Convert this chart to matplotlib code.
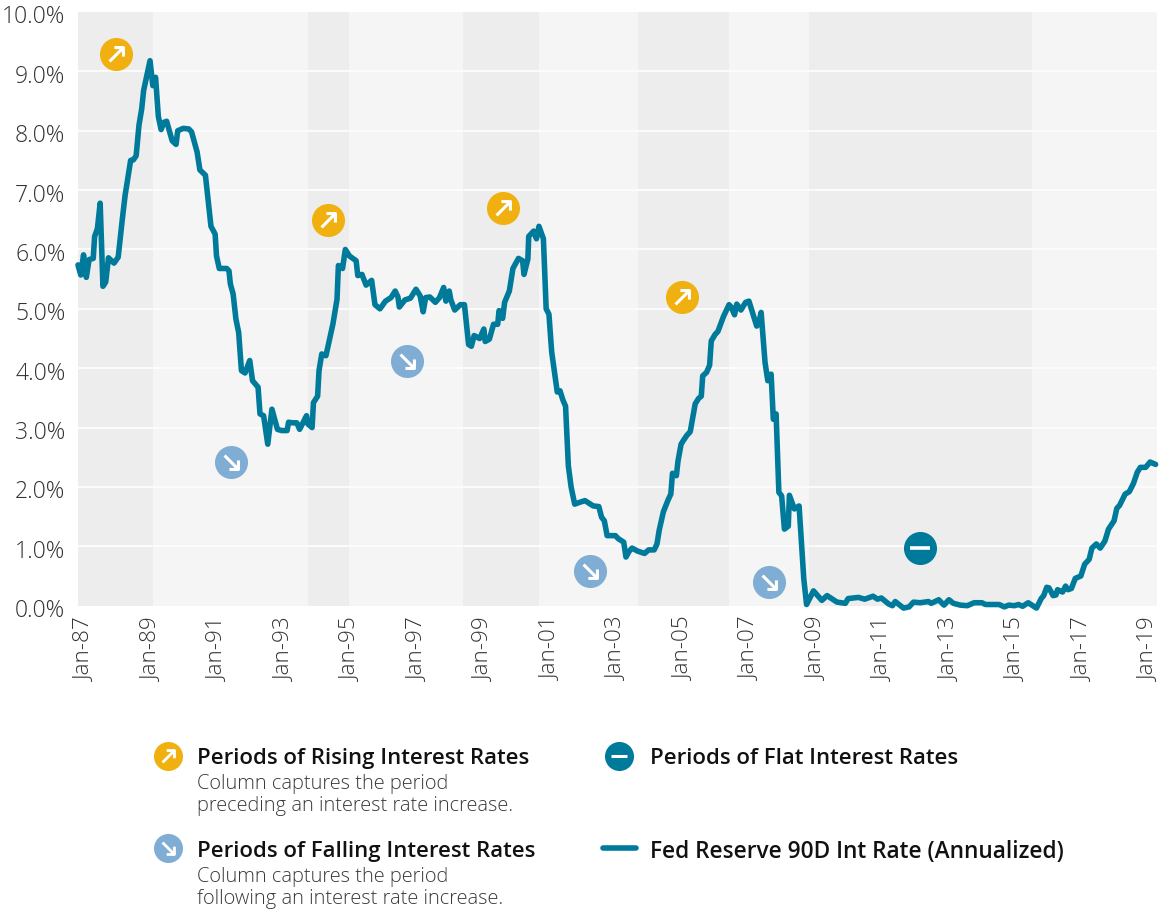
import matplotlib
matplotlib.use("Agg")
import matplotlib.pyplot as plt
from matplotlib.path import Path
from matplotlib.transforms import ScaledTranslation

# Months since Jan-87 and the rate (%)
months = [0,1,2,3,4,5.5,6,7,8,9,10,11,13,14.5,16,17,19,20,21,22,23,23.7,26,27,28,29,30,31,32,34,35.4,36,38,40,41,43,44,46,48,49.5,50,51,53.7,54.5,55,56,57,58,59,60.3,62,63,65,65.7,67,68.5,70,72,73.5,75.5,76,77.5,79,80,82.5,83,84.5,85,86.5,87,88,89.5,92,93.5,94,95.5,96.5,98,100.4,101,102.5,104,106,107.2,109,111,113,114.5,115.5,116,118,120,122,123.5,124.6,125.5,127,129,130.5,132,132.8,134,134.6,136,138,139.5,141,142,143,145,146.5,147,148.5,150,151.5,152,153.3,154,155.7,157,159,160.5,161,162.4,162.7,164.5,165.5,166.4,168,169,170,171,172,173,174,175,176,177,178,179.3,181,183,186,188,189,190,191,192.6,194,195,197,197.8,199,200,202,204.5,206,208,209,209.8,211.3,213,214,214.6,216,216.6,217.7,218.5,219.8,221,222.8,224,225,225.5,226.9,228,228.6,230,231,233,235,235.8,237,237.8,239.3,241,242.2,245,245.6,246.6,248,249,250.2,251,252,253,254,255,256.4,256.8,258.6,260.3,262,263,265.5,268.5,270.4,274,277,278,281.7,284,287,288.6,290,292.6,294,295,298,300,301.6,304,307,308,310.7,312.6,314.4,316,318.5,321,323.5,326.3,327.6,332.5,334.4,336,338,339.5,341,343,346,347.7,348.6,349.7,350.5,352,353,353.6,355.4,356.5,357.4,358.6,360,362,363.4,365,366,367.6,369,370.7,372,374,375,376,378,379.5,381,382.4,383.5,385.4,387,389]
rates = [5.74,5.57,5.91,5.53,5.83,5.85,6.22,6.35,6.78,5.38,5.45,5.86,5.77,5.87,6.51,6.91,7.5,7.51,7.58,8.09,8.37,8.68,9.18,8.76,8.9,8.24,8.02,8.14,8.16,7.83,7.77,8.0,8.04,8.03,7.98,7.64,7.34,7.25,6.39,6.26,5.89,5.68,5.68,5.64,5.42,5.25,4.83,4.6,3.96,3.92,4.13,3.79,3.68,3.23,3.2,2.72,3.31,2.97,2.95,2.95,3.09,3.08,3.08,2.97,3.2,3.06,3.0,3.42,3.53,3.96,4.24,4.21,4.74,5.16,5.73,5.68,6.0,5.89,5.81,5.56,5.58,5.4,5.48,5.07,5.0,5.13,5.19,5.3,5.2,5.03,5.15,5.18,5.33,5.22,4.95,5.19,5.2,5.11,5.19,5.36,5.13,5.3,5.15,4.98,5.07,5.07,4.4,4.37,4.55,4.5,4.66,4.45,4.49,4.74,4.74,4.97,4.84,5.11,5.3,5.68,5.85,5.81,5.58,5.84,6.22,6.31,6.18,6.39,6.18,5.0,4.91,4.27,3.93,3.6,3.62,3.47,3.36,2.36,2.0,1.71,1.74,1.77,1.68,1.67,1.49,1.43,1.18,1.18,1.18,1.13,1.07,0.82,0.92,0.97,0.92,0.88,0.94,0.94,1.04,1.27,1.58,1.78,1.88,2.23,2.19,2.44,2.72,2.78,2.87,2.93,3.4,3.49,3.53,3.87,3.93,4.05,4.46,4.57,4.62,4.87,5.07,5.03,4.9,5.08,4.98,5.11,5.13,4.71,4.74,4.94,4.1,3.79,3.9,3.14,3.23,1.91,1.85,1.29,1.34,1.86,1.63,1.68,0.45,0.02,0.25,0.09,0.17,0.06,0.04,0.12,0.14,0.11,0.16,0.11,0.13,0.03,0.0,0.07,-0.04,-0.02,0.06,0.05,0.07,0.04,0.1,0.01,0.1,0.04,0.01,0.0,0.05,0.05,0.02,0.02,-0.02,0.01,0.0,0.02,-0.01,0.05,-0.04,0.12,0.17,0.31,0.3,0.17,0.18,0.27,0.23,0.33,0.27,0.29,0.46,0.5,0.7,0.78,0.97,1.04,0.97,1.09,1.29,1.43,1.64,1.69,1.88,1.92,2.06,2.25,2.33,2.33,2.42,2.38]

band_start = [0, 83, 139, 202, 264]
band_end = [27, 98, 166.5, 235, 344.4]
y_ticks = [0,1,2,3,4,5,6,7,8,9,10]
x_tick_months = list(range(0, 385, 24))
x_tick_labels = ["Jan-87","Jan-89","Jan-91","Jan-93","Jan-95","Jan-97","Jan-99","Jan-01","Jan-03","Jan-05","Jan-07","Jan-09","Jan-11","Jan-13","Jan-15","Jan-17","Jan-19"]
rising_x = [13.7, 90.3, 153.4, 218]
rising_y = [9.29, 6.5, 6.7, 5.2]
falling_x = [55.2, 118.8, 184.8, 249.5]
falling_y = [2.42, 4.13, 0.58, 0.4]
flat_x = [304]
flat_y = [0.98]

TEAL = "#007a9a"
GOLD = "#f0b110"
BLUE = "#7fadd4"
FONT = "Open Sans"
W, H = 1163, 912
plt.rcParams["font.family"] = FONT

fig = plt.figure(figsize=(W/100, H/100), dpi=100)
ax = fig.add_axes([78/W, 1-606.7/H, (1157-78)/W, (606.7-13)/H])
ax.set_xlim(0, 389.5)
ax.set_ylim(0, 10)
ax.set_facecolor("#f5f5f5")
for s in ax.spines.values():
    s.set_visible(False)
for a, b in zip(band_start, band_end):
    ax.axvspan(a, b, color="#ededed", lw=0, zorder=0)
for v in y_ticks[1:-1]:
    ax.axhline(v, color="#fbfbfb", lw=1.5, zorder=1)
ax.plot(months, rates, color=TEAL, lw=4.0, zorder=3, solid_joinstyle="round",
        solid_capstyle="round", clip_on=False)

UP = Path([(-1,-1),(1,1),(-0.3,1),(1,1),(1,-0.3)],[Path.MOVETO,Path.LINETO,Path.MOVETO,Path.LINETO,Path.LINETO])
DOWN = Path([(-1,1),(1,-1),(-0.3,-1),(1,-1),(1,0.3)],[Path.MOVETO,Path.LINETO,Path.MOVETO,Path.LINETO,Path.LINETO])
MINUS = Path([(-1,0),(1,0)],[Path.MOVETO,Path.LINETO])

def badge(a, x, y, color, glyph, d, gs, mew):
    a.plot(x, y, ls="none", marker="o", ms=d, mfc=color, mec="none", zorder=5, clip_on=False)
    a.plot(x, y, ls="none", marker=glyph, ms=gs, mfc="none", mec="white", mew=mew, zorder=6, clip_on=False)

badge(ax, rising_x, rising_y, GOLD, UP, 23.8, 10, 2.2)
badge(ax, falling_x, falling_y, BLUE, DOWN, 23.8, 10, 2.2)
badge(ax, flat_x, flat_y, TEAL, MINUS, 23.8, 14, 2.6)

ax.set_yticks(y_ticks)
ax.set_yticklabels([f"{v:.1f}%" for v in y_ticks], fontsize=16.6, color="#333333", fontweight="light")
ax.set_xticks(x_tick_months)
ax.set_xticklabels(x_tick_labels, rotation=90, fontsize=16.2, color="#333333", fontweight="light")
ax.tick_params(axis="both", length=0)
ax.tick_params(axis="y", pad=9)
ax.tick_params(axis="x", pad=8)
xoff = ScaledTranslation(7/100, 0, fig.dpi_scale_trans)
for t in ax.get_xticklabels():
    t.set_transform(t.get_transform() + xoff)
yoff = ScaledTranslation(0, -1.5/100, fig.dpi_scale_trans)
for t in ax.get_yticklabels():
    t.set_transform(t.get_transform() + yoff)

ov = fig.add_axes([0,0,1,1], facecolor="none")
ov.set_xlim(0, W)
ov.set_ylim(H, 0)
ov.axis("off")
badge(ov, [168], [757], GOLD, UP, 20.9, 8.6, 2.0)
badge(ov, [168], [849], BLUE, DOWN, 20.9, 8.6, 2.0)
badge(ov, [619], [757], TEAL, MINUS, 20.9, 12, 2.2)
ov.plot([603, 636], [849, 849], color=TEAL, lw=4.0, solid_capstyle="round")

HEAD = dict(color="#111111", fontweight="semibold", va="center", ha="left")
BODY = dict(fontsize=14.45, color="#3a3a3a", va="center", ha="left", fontweight="light")
ov.text(197, 759, "Periods of Rising Interest Rates", fontsize=15.9, **HEAD)
ov.text(197, 784, "Column captures the period", **BODY)
ov.text(197, 806, "preceding an interest rate increase.", **BODY)
ov.text(197, 852, "Periods of Falling Interest Rates", fontsize=15.9, **HEAD)
ov.text(197, 877, "Column captures the period", **BODY)
ov.text(197, 899, "following an interest rate increase.", **BODY)
ov.text(650, 759, "Periods of Flat Interest Rates", fontsize=15.9, **HEAD)
ov.text(650, 852, "Fed Reserve 90D Int Rate (Annualized)", fontsize=16.25, **HEAD)

assert len(months) == len(rates), (len(months), len(rates))
fig.savefig("out.png", dpi=100, facecolor="white")
